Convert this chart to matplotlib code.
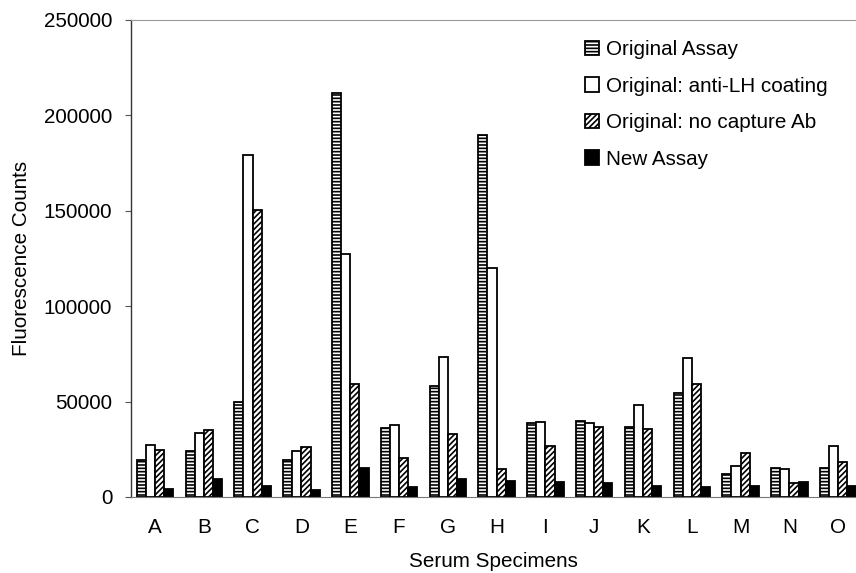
import numpy as np
import matplotlib
matplotlib.use("Agg")
import matplotlib.pyplot as plt

# data
specimens = ["A", "B", "C", "D", "E", "F", "G", "H", "I", "J", "K", "L", "M", "N", "O"]
original = [19400, 24300, 50000, 19400, 211600, 36000, 58200, 189700, 38900, 39800, 36500, 54500, 11900, 15200, 15000]
anti_lh = [27100, 33700, 179200, 24100, 127500, 37700, 73500, 120200, 39500, 38900, 48400, 72800, 16100, 14900, 26700]
no_capture = [24600, 35100, 150400, 26000, 59200, 20600, 33000, 14500, 26500, 36900, 35500, 59200, 23100, 7500, 18300]
new_assay = [4200, 9400, 5900, 3700, 15000, 5400, 9300, 8200, 7700, 7500, 5600, 5200, 5600, 7700, 5900]
series_names = ["Original Assay", "Original: anti-LH coating", "Original: no capture Ab", "New Assay"]
y_ticks = [0, 50000, 100000, 150000, 200000, 250000]

plt.rcParams['font.family'] = ['Liberation Sans', 'DejaVu Sans']
plt.rcParams['hatch.linewidth'] = 1.2
FS = 14.9

fig = plt.figure(figsize=(8.56, 5.73), dpi=100)
ax = fig.add_axes([130.6 / 856, 76 / 573, (856 - 130.6) / 856, 477 / 573])

x = np.arange(len(specimens))
w = 0.1875
styles = [
    dict(color="white", hatch="-----"),
    dict(color="white", hatch=None),
    dict(color="white", hatch="//////"),
    dict(color="black", hatch=None),
]
all_series = [original, anti_lh, no_capture, new_assay]
for i, (vals, name, st) in enumerate(zip(all_series, series_names, styles)):
    ax.bar(x + (i - 1.5) * w, vals, w, color=st["color"], hatch=st["hatch"],
           edgecolor="black", linewidth=1.3, label=name)

ax.set_xlim(-0.5, (856 - 155) / 48.8)
ax.set_ylim(0, 250000)
ax.set_yticks(y_ticks)
ax.set_yticklabels([str(t) for t in y_ticks], fontsize=FS)
ax.set_xticks(x)
ax.set_xticklabels(specimens, fontsize=FS)
ax.tick_params(axis="x", length=0, pad=15)
ax.tick_params(axis="y", length=4.3, width=0.8, color="#555555", pad=9)

ax.spines["right"].set_visible(False)
ax.spines["top"].set_color("#999999")
ax.spines["bottom"].set_color("#777777")
ax.spines["left"].set_color("#333333")
ax.spines["left"].set_linewidth(1.0)

ax.set_ylabel("Fluorescence Counts", fontsize=FS, labelpad=9)
ax.set_xlabel("Serum Specimens", fontsize=FS, labelpad=11)

ax.legend(loc="upper left", bbox_to_anchor=(585 / 856, 1 - 40 / 573),
          bbox_transform=fig.transFigure, frameon=False, fontsize=FS,
          handlelength=0.7, handleheight=0.7, handletextpad=0.3,
          labelspacing=0.85, borderpad=0, borderaxespad=0)

fig.savefig("out.png", dpi=100)
